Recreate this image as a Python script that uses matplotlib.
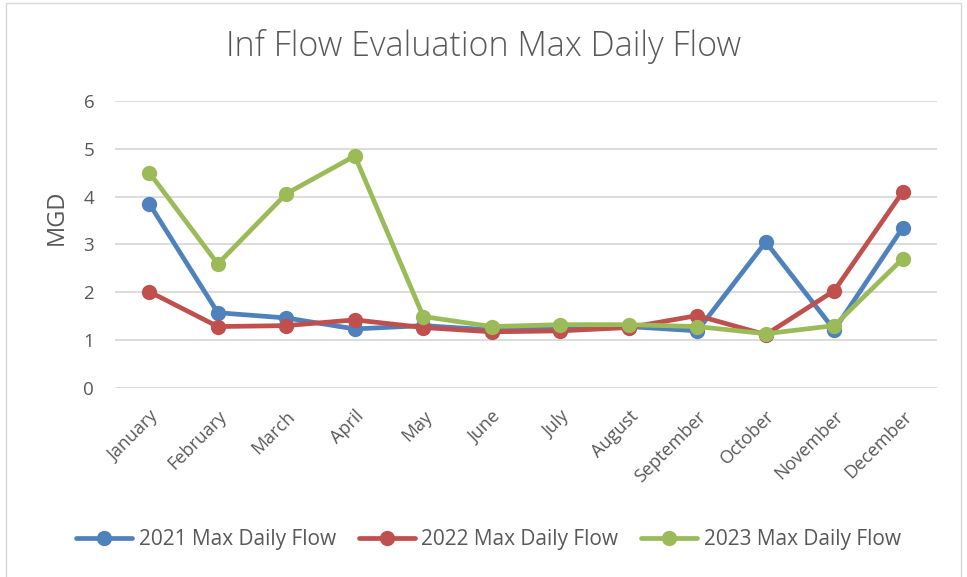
import matplotlib
matplotlib.use("Agg")
import matplotlib.pyplot as plt
from matplotlib.patches import Rectangle

meses = ["January", "February", "March", "April", "May", "June", "July",
         "August", "September", "October", "November", "December"]
fluxo_2021 = [3.85, 1.57, 1.46, 1.23, 1.30, 1.21, 1.25, 1.28, 1.19, 3.05, 1.21, 3.35]
fluxo_2022 = [2.01, 1.28, 1.30, 1.42, 1.26, 1.17, 1.19, 1.26, 1.51, 1.11, 2.03, 4.10]
fluxo_2023 = [4.50, 2.59, 4.06, 4.85, 1.49, 1.28, 1.32, 1.32, 1.28, 1.13, 1.30, 2.70]

series = [
    ("2021 Max Daily Flow", fluxo_2021, "#4F81BD"),
    ("2022 Max Daily Flow", fluxo_2022, "#C0504D"),
    ("2023 Max Daily Flow", fluxo_2023, "#9BBB59"),
]

plt.rcParams['font.family'] = ['Open Sans', 'DejaVu Sans']
cinza = "#595959"

fig = plt.figure(figsize=(9.67, 5.77), dpi=100)
ax = fig.add_axes([0.119, 0.328, 0.850, 0.497])

x = list(range(len(meses)))
for nome, valores, cor in series:
    ax.plot(x, valores, color=cor, lw=3.4, marker="o", markersize=10,
            label=nome, solid_capstyle="round")

ax.set_xlim(-0.5, 11.5)
ax.set_ylim(0, 6)
ax.set_yticks(range(0, 7))
ax.yaxis.grid(True, color="#D9D9D9", lw=1.3)
ax.set_axisbelow(True)
for s in ax.spines.values():
    s.set_visible(False)
ax.tick_params(axis="both", length=0, colors=cinza, labelsize=13)
ax.tick_params(axis="y", pad=15, labelsize=13.5)
ax.tick_params(axis="x", pad=14)
ax.set_xticks(x)
ax.set_xticklabels(meses, rotation=45, ha="right", rotation_mode="anchor")
fig.text(57 / 967, 1 - 217 / 577, "MGD", color=cinza, fontsize=17,
         rotation=90, ha="center", va="center")

fig.suptitle("Inf Flow Evaluation Max Daily Flow", y=1 - 47 / 577, va="center",
             fontsize=24.5, color=cinza, fontweight="light")

fig.legend(loc="center", bbox_to_anchor=(0.505, 1 - 540 / 577), ncol=3, frameon=False,
           fontsize=15, labelcolor=cinza, handlelength=2.7, handletextpad=0.3,
           columnspacing=1.1)

fig.patches.append(Rectangle((0.006, -0.01), 0.988, 1.005, transform=fig.transFigure,
                             fill=False, edgecolor="#D9D9D9", lw=1))

fig.savefig("out.png", dpi=100)
